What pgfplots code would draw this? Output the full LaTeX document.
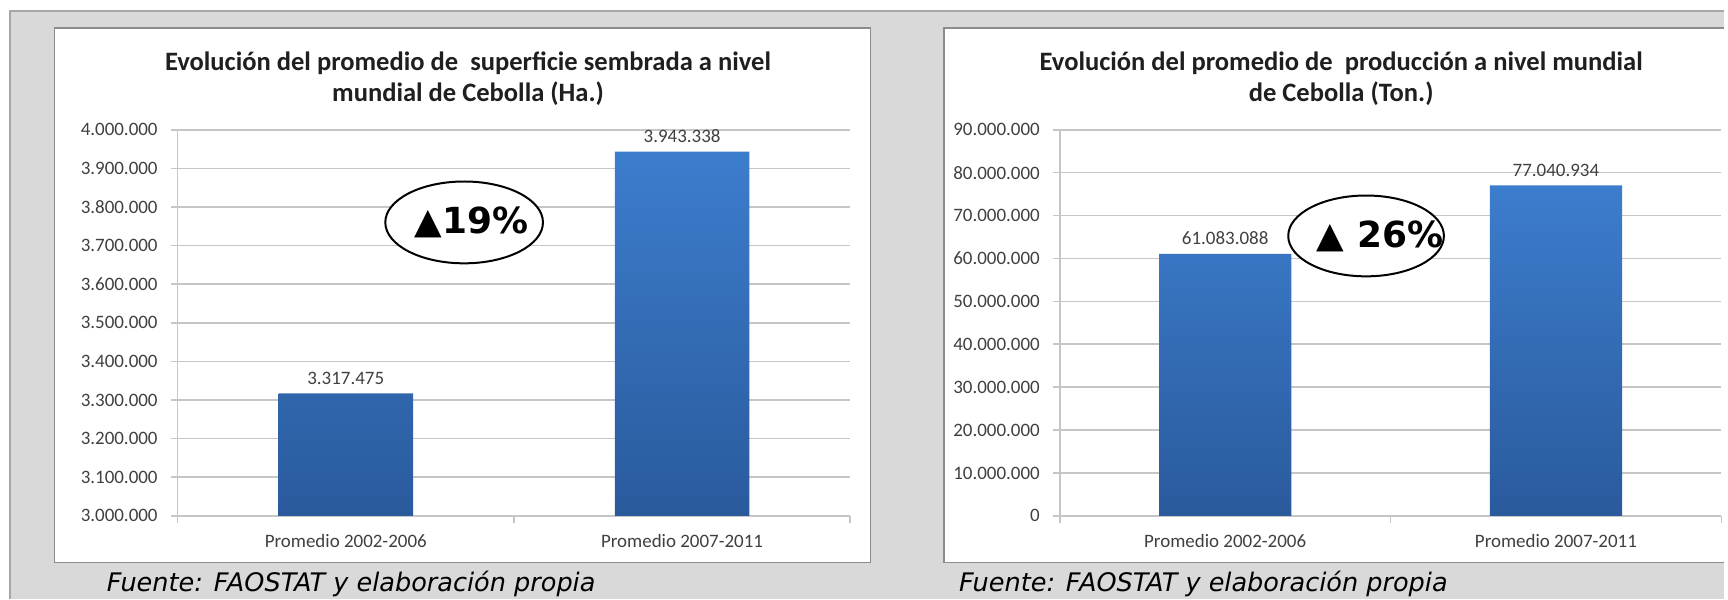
\documentclass[border=0pt]{standalone}
\usepackage{pgfplots}
\pgfplotsset{compat=1.18}
\usepackage{fontspec}
\setmainfont{Carlito}
\newfontfamily\dejavu{DejaVu Sans}
\usetikzlibrary{shapes.geometric}

\definecolor{panelgray}{HTML}{D9D9D9}
\definecolor{panelline}{HTML}{A6A6A6}
\definecolor{boxline}{HTML}{8C8C8C}
\definecolor{gridgray}{HTML}{C6C6C6}
\definecolor{labelgray}{HTML}{404040}
\definecolor{titlegray}{HTML}{1F1F1F}
\definecolor{bartop}{HTML}{3C7DCD}
\definecolor{barbot}{HTML}{2A5A9C}

\pgfplotsset{
  excelbar/.style={
    scale only axis,
    height=193.5pt,
    xmin=-0.5, xmax=1.5,
    axis lines*=left,
    axis line style={-, draw=gridgray, line width=0.8pt},
    ymajorgrids,
    grid style={draw=gridgray, line width=0.8pt},
    tick align=outside,
    major tick length=3.5pt,
    tick style={draw=gridgray, line width=0.8pt},
    xtick={-0.5,0.5,1.5},
    xticklabels={},
    extra x ticks={0,1},
    extra x tick labels={Promedio 2002-2006,Promedio 2007-2011},
    extra x tick style={major tick length=0pt},
    ticklabel style={font=\fontsize{9.5}{11}\selectfont, text=labelgray},
    xticklabel style={yshift=-5.5pt},
    yticklabel style={xshift=-3pt},
    scaled y ticks=false,
    clip=false,
  },
  shadedbar/.style={
    ybar, bar width=0.4, bar shift=0pt, draw=none,
    top color=bartop, bottom color=barbot,
    point meta=explicit symbolic,
    nodes near coords,
    nodes near coords style={font=\fontsize{9.5}{11}\selectfont, text=labelgray, yshift=1pt},
  },
}

\begin{document}
\begin{tikzpicture}
\fill[white] (0,0) rectangle (864pt,300pt);
\fill[panelgray] (5pt,0pt) rectangle (864pt,294.5pt);
\draw[panelline, line width=0.8pt] (5pt,0pt) -- (5pt,294.5pt) -- (864pt,294.5pt);
\filldraw[fill=white, draw=boxline, line width=0.6pt] (27.5pt,18pt) rectangle (436pt,286pt);
\fill[white] (473pt,18pt) rectangle (864pt,286pt);
\draw[boxline, line width=0.6pt] (864pt,286pt) -- (473pt,286pt) -- (473pt,18pt) -- (864pt,18pt);

\node[align=center, font=\bfseries\fontsize{13.3}{15.5}\selectfont, text=titlegray] at (234.5pt,260.5pt)
  {Evolución del promedio de\ \ superficie sembrada a nivel\\mundial de Cebolla (Ha.)};
\node[align=center, font=\bfseries\fontsize{13.3}{15.5}\selectfont, text=titlegray] at (672pt,260.5pt)
  {Evolución del promedio de\ \ producción a nivel mundial\\de Cebolla (Ton.)};

% superficie sembrada (Ha.), eje desde 3.000.000
\begin{axis}[excelbar,
  at={(89pt,41.5pt)}, anchor=south west,
  width=337pt,
  ymin=0, ymax=1000000,
  y filter/.expression={y-3000000},
  ytick={0,100000,200000,300000,400000,500000,600000,700000,800000,900000,1000000},
  yticklabels={3.000.000,3.100.000,3.200.000,3.300.000,3.400.000,3.500.000,3.600.000,3.700.000,3.800.000,3.900.000,4.000.000},
]
\addplot[shadedbar] coordinates {(0,3317475) [3.317.475] (1,3943338) [3.943.338]};
\node[ellipse, draw=black, fill=white, line width=1pt, minimum width=79pt, minimum height=41pt, inner sep=0pt]
  at (rel axis cs:0.426,0.760) {};
\node[font=\dejavu\bfseries\fontsize{18}{20}\selectfont] at (rel axis cs:0.437,0.760) {▲19\%};
\end{axis}

% produccion (Ton.)
\begin{axis}[excelbar,
  at={(531pt,41.5pt)}, anchor=south west,
  width=331.5pt,
  ymin=0, ymax=90000000,
  ytick={0,10000000,20000000,30000000,40000000,50000000,60000000,70000000,80000000,90000000},
  yticklabels={0,10.000.000,20.000.000,30.000.000,40.000.000,50.000.000,60.000.000,70.000.000,80.000.000,90.000.000},
]
\addplot[shadedbar] coordinates {(0,61083088) [61.083.088] (1,77040934) [77.040.934]};
\node[ellipse, draw=black, fill=white, line width=1pt, minimum width=78pt, minimum height=40.5pt, inner sep=0pt]
  at (rel axis cs:0.463,0.725) {};
\node[font=\dejavu\bfseries\fontsize{18}{20}\selectfont] at (rel axis cs:0.484,0.725) {▲ 26\%};
\end{axis}

\node[overlay, anchor=west, font=\dejavu\itshape\fontsize{12.8}{14}\selectfont] at (50pt,7.5pt) {Fuente: FAOSTAT y elaboración propia};
\node[overlay, anchor=west, font=\dejavu\itshape\fontsize{12.8}{14}\selectfont] at (477pt,7.5pt) {Fuente: FAOSTAT y elaboración propia};
\end{tikzpicture}
\end{document}
